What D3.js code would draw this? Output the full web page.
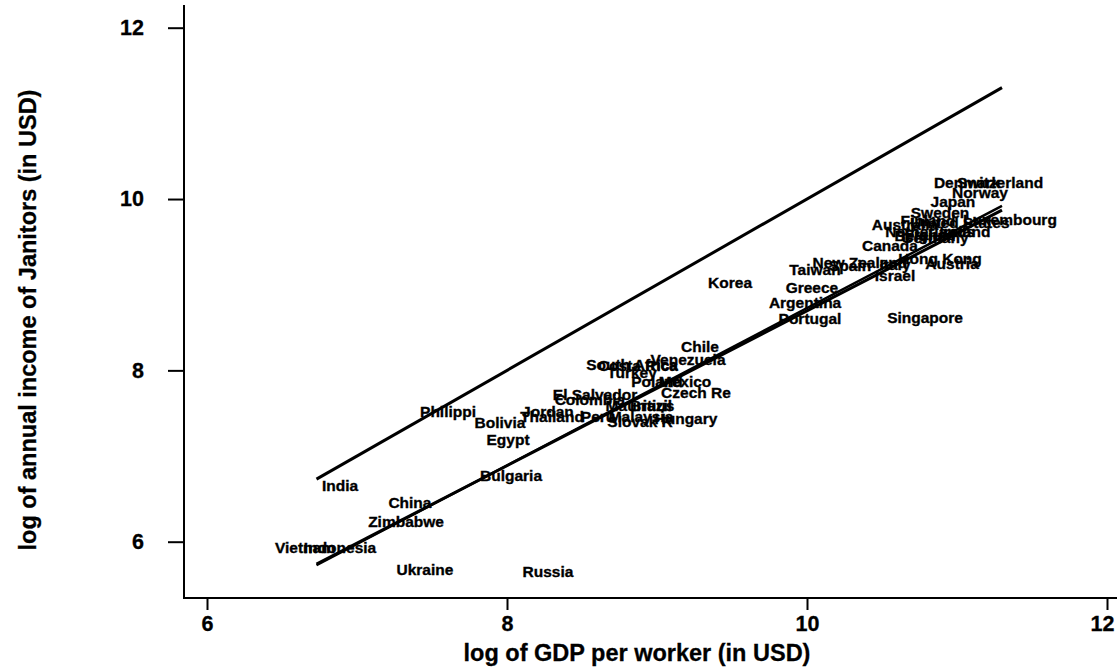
<!DOCTYPE html>
<html>
<head>
<meta charset="utf-8">
<script src="https://cdn.jsdelivr.net/npm/d3@7"></script>
<style>
  html, body { margin: 0; padding: 0; background: #fff; }
  svg { display: block; font-family: "Liberation Sans", Arial, Helvetica, sans-serif; font-weight: bold; }
</style>
</head>
<body>
<svg id="chart" width="1117" height="668"></svg>
<script>
// ---- data ----
const countries = ["Denmark","Switzerland","Norway","Japan","Sweden","Luxembourg","United States","Australia","Finland","Netherlands","Ireland","Belgium","France","Germany","Canada","Hong Kong","Austria","Italy","Israel","New Zealand","Spain","Taiwan","Korea","Greece","Argentina","Portugal","Singapore","Chile","Venezuela","South Africa","Costa Rica","Turkey","Poland","Mexico","Czech Re","El Salvador","Colombia","Mauritius","Brazil","Jordan","Thailand","Peru","Malaysia","Slovak R","Hungary","Philippi","Bolivia","Egypt","Bulgaria","India","China","Zimbabwe","Vietnam","Indonesia","Ukraine","Russia"];
const logGDP = [11.067,11.287,11.153,10.973,10.887,11.353,11.02,10.653,10.807,10.82,11.053,10.787,10.82,10.853,10.553,10.887,10.967,10.587,10.587,10.353,10.287,10.053,9.487,10.033,9.987,10.02,10.787,9.287,9.207,8.833,8.873,8.833,9.0,9.187,9.26,8.587,8.553,8.887,8.96,8.273,8.30,8.607,8.893,8.887,9.193,7.607,7.953,8.007,8.027,6.887,7.353,7.327,6.653,6.887,7.453,8.273];
const logIncome = [10.187,10.187,10.070,9.965,9.837,9.755,9.73,9.697,9.743,9.615,9.615,9.568,9.59,9.545,9.452,9.30,9.242,9.23,9.101,9.253,9.218,9.172,9.020,8.961,8.786,8.600,8.612,8.273,8.121,8.063,8.051,7.969,7.864,7.864,7.736,7.712,7.654,7.584,7.584,7.514,7.456,7.456,7.456,7.397,7.432,7.514,7.386,7.187,6.767,6.650,6.452,6.230,5.926,5.926,5.670,5.647];

// 45-degree line and fitted lines (endpoints)
const diagX = [6.73, 11.3];
const diagY = [6.73, 11.3];
const fitX  = [6.73, 11.3];
const fitY1 = [5.74, 9.87];
const fitY2 = [5.725, 9.92];

const xTicks = [6, 8, 10, 12];
const yTicks = [6, 8, 10, 12];
const xTitle = "log of GDP per worker (in USD)";
const yTitle = "log of annual income of Janitors (in USD)";

// ---- layout ----
const svg = d3.select("#chart");
const axisLeftX = 184, axisBottomY = 598, axisTopY = 5, axisRightX = 1117;

const x = d3.scaleLinear().domain([6, 12]).range([207, 1107]);
const y = d3.scaleLinear().domain([6, 12]).range([541.7, 27.7]);

// axis lines
svg.append("line").attr("x1", axisLeftX).attr("x2", axisLeftX)
  .attr("y1", axisTopY).attr("y2", axisBottomY + 1)
  .attr("stroke", "#000").attr("stroke-width", 2);
svg.append("line").attr("x1", axisLeftX - 1).attr("x2", axisRightX)
  .attr("y1", axisBottomY).attr("y2", axisBottomY)
  .attr("stroke", "#000").attr("stroke-width", 2);

// x axis
const gx = svg.append("g").attr("transform", `translate(0,${axisBottomY})`)
  .call(d3.axisBottom(x).tickValues(xTicks).tickSize(12).tickPadding(6).tickFormat(d3.format("d")));
gx.select(".domain").remove();
gx.selectAll(".tick line").attr("stroke", "#000").attr("stroke-width", 2);
gx.selectAll(".tick text").attr("font-size", 21.5).attr("font-weight", "bold")
  .attr("font-family", "Liberation Sans, Arial, sans-serif").attr("fill", "#000")
  .attr("stroke", "#000").attr("stroke-width", 0.3)
  .attr("dx", d => d === 12 ? -5 : 0);

// y axis
const gy = svg.append("g").attr("transform", `translate(${axisLeftX},0)`)
  .call(d3.axisLeft(y).tickValues(yTicks).tickSize(16).tickPadding(24).tickFormat(d3.format("d")));
gy.select(".domain").remove();
gy.selectAll(".tick line").attr("stroke", "#000").attr("stroke-width", 2);
gy.selectAll(".tick text").attr("font-size", 21.5).attr("font-weight", "bold")
  .attr("font-family", "Liberation Sans, Arial, sans-serif").attr("fill", "#000")
  .attr("stroke", "#000").attr("stroke-width", 0.3);

// titles
svg.append("text").attr("x", 637).attr("y", 661).attr("text-anchor", "middle")
  .attr("font-size", 23.5).attr("fill", "#000").attr("stroke", "#000").attr("stroke-width", 0.3)
  .text(xTitle);
svg.append("text").attr("transform", "translate(36,320) rotate(-90)").attr("text-anchor", "middle")
  .attr("font-size", 23.5).attr("fill", "#000").attr("stroke", "#000").attr("stroke-width", 0.3)
  .text(yTitle);

// lines
const line = d3.line().x(d => x(d[0])).y(d => y(d[1]));
svg.append("path").attr("d", line(d3.zip(diagX, diagY)))
  .attr("fill", "none").attr("stroke", "#000").attr("stroke-width", 3);
svg.append("path").attr("d", line(d3.zip(fitX, fitY1)))
  .attr("fill", "none").attr("stroke", "#000").attr("stroke-width", 3);
svg.append("path").attr("d", line(d3.zip(fitX, fitY2)))
  .attr("fill", "none").attr("stroke", "#000").attr("stroke-width", 2.5);

// labels
const pts = countries.map((c, i) => ({ c, gx: logGDP[i], iy: logIncome[i] }));
svg.append("g").selectAll("text").data(pts).join("text")
  .attr("x", d => x(d.gx)).attr("y", d => y(d.iy)).attr("dy", "0.35em")
  .attr("text-anchor", "middle").attr("font-size", 15.5).attr("fill", "#000")
  .attr("stroke", "#000").attr("stroke-width", 0.35)
  .text(d => d.c);
</script>
</body>
</html>
